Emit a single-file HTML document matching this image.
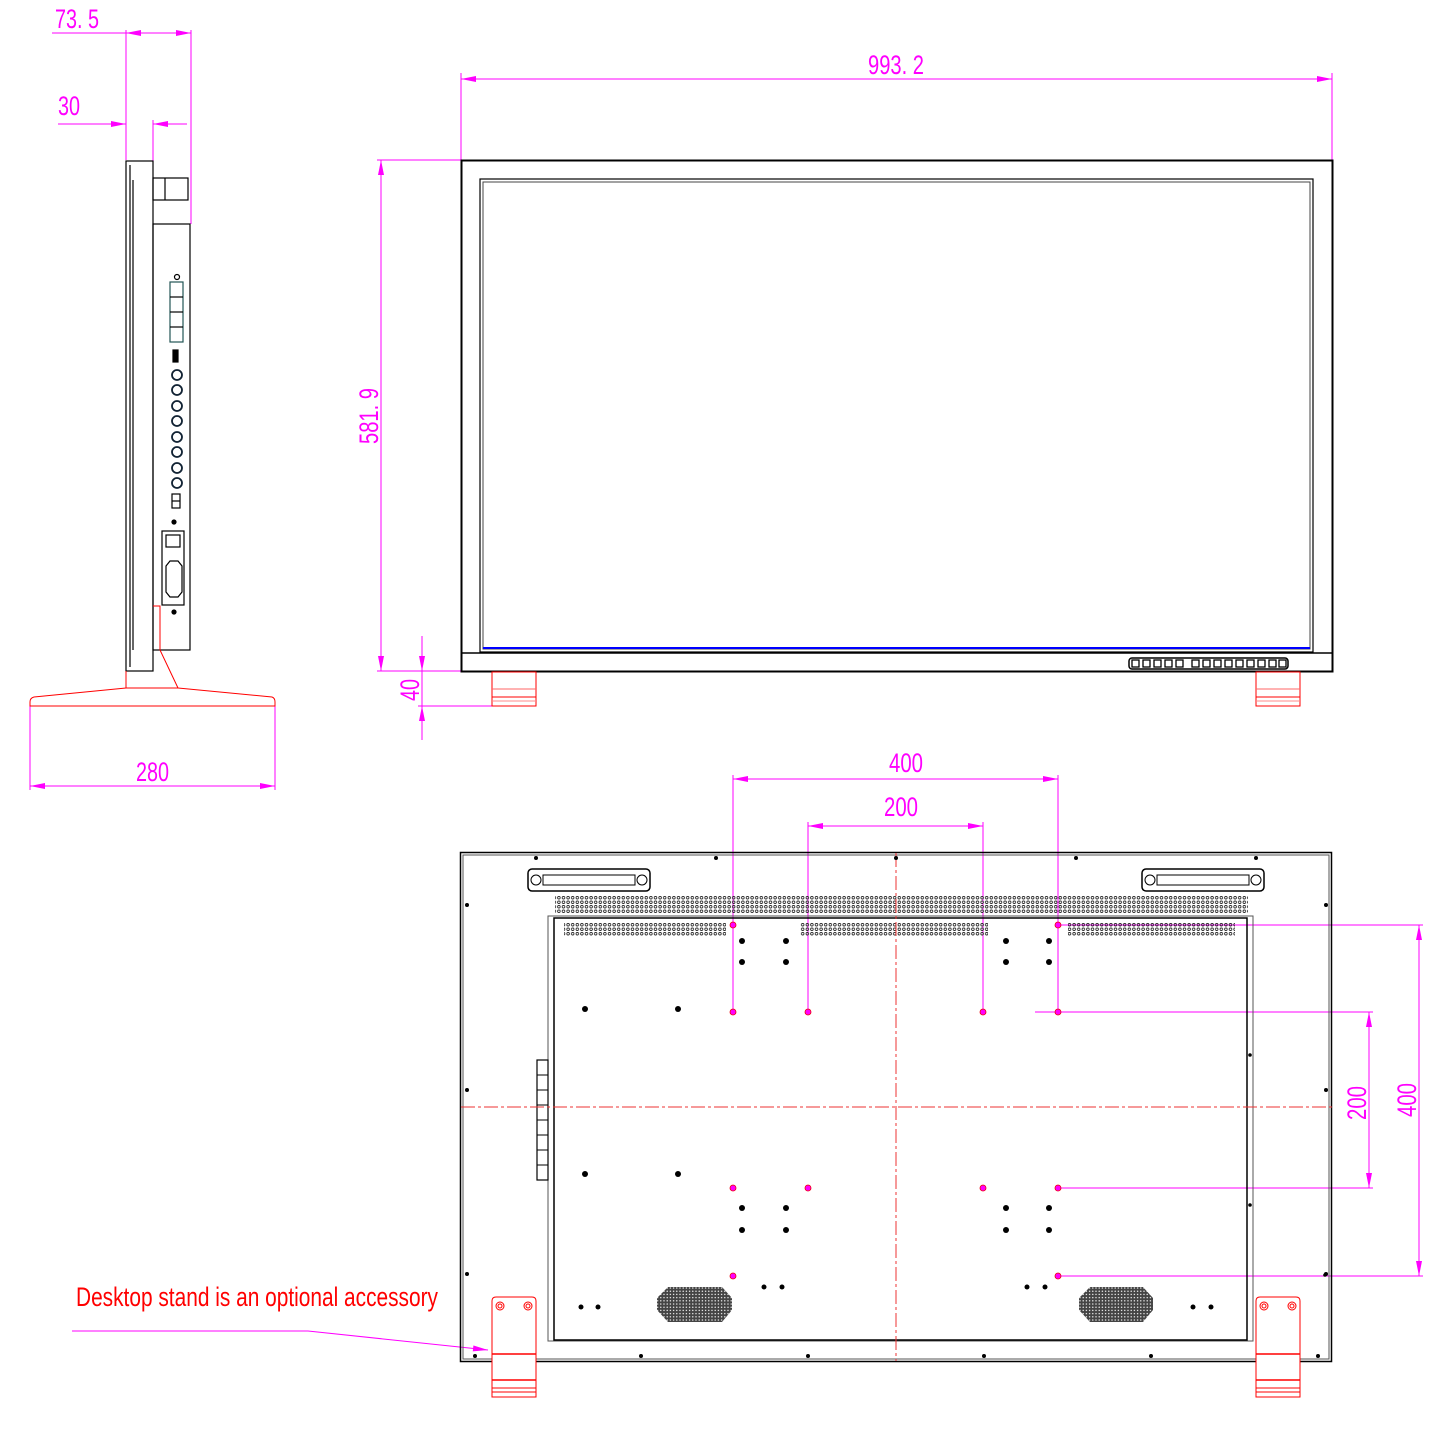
<!DOCTYPE html>
<html><head><meta charset="utf-8"><style>html,body{margin:0;padding:0;background:#fff}svg{display:block}</style></head>
<body>
<svg width="1455" height="1433" viewBox="0 0 1455 1433" xmlns="http://www.w3.org/2000/svg" font-family="Liberation Sans, sans-serif">
<defs>
<marker id="a" viewBox="0 0 10 4" refX="10" refY="2" markerWidth="16" markerHeight="6" markerUnits="userSpaceOnUse" orient="auto-start-reverse"><path d="M0,0L10,2L0,4z" fill="#f0f"/></marker>
<pattern id="v" width="4.6" height="4.5" patternUnits="userSpaceOnUse"><circle cx="2.3" cy="2.25" r="1.3" fill="none" stroke="#222" stroke-width="0.8"/></pattern>
<pattern id="sp" width="3.2" height="3.2" patternUnits="userSpaceOnUse"><rect width="3.2" height="3.2" fill="#444"/><circle cx="1.6" cy="1.6" r="0.7" fill="#fff"/></pattern>
</defs>
<g fill="none" stroke="#f0f" stroke-width="1">
<line x1="126" y1="30" x2="126" y2="160"/><line x1="191" y1="30" x2="191" y2="224"/><line x1="153" y1="120" x2="153" y2="178"/>
<line x1="52" y1="33" x2="191" y2="33"/>
<line x1="126" y1="33" x2="148" y2="33" marker-start="url(#a)"/><line x1="170" y1="33" x2="191" y2="33" marker-end="url(#a)"/>
<line x1="58" y1="124" x2="126" y2="124" marker-end="url(#a)"/><line x1="187" y1="124" x2="153" y2="124" marker-end="url(#a)"/>
<line x1="30" y1="706" x2="30" y2="790"/><line x1="275" y1="706" x2="275" y2="790"/>
<line x1="30" y1="786" x2="275" y2="786" marker-start="url(#a)" marker-end="url(#a)"/>
<line x1="461" y1="73" x2="461" y2="160"/><line x1="1332" y1="73" x2="1332" y2="160"/>
<line x1="461" y1="79" x2="1332" y2="79" marker-start="url(#a)" marker-end="url(#a)"/>
<line x1="377" y1="160" x2="461" y2="160"/><line x1="377" y1="671" x2="470" y2="671"/>
<line x1="381" y1="160" x2="381" y2="671" marker-start="url(#a)" marker-end="url(#a)"/>
<line x1="418" y1="706" x2="500" y2="706"/>
<line x1="422" y1="636" x2="422" y2="671" marker-end="url(#a)"/><line x1="422" y1="740" x2="422" y2="706" marker-end="url(#a)"/><line x1="422" y1="671" x2="422" y2="706"/>
<line x1="733" y1="775" x2="733" y2="1012"/><line x1="1058" y1="775" x2="1058" y2="1012"/>
<line x1="733" y1="779" x2="1058" y2="779" marker-start="url(#a)" marker-end="url(#a)"/>
<line x1="808" y1="822" x2="808" y2="1012"/><line x1="983" y1="822" x2="983" y2="1012"/>
<line x1="808" y1="826" x2="983" y2="826" marker-start="url(#a)" marker-end="url(#a)"/>
<line x1="1058" y1="925" x2="1423" y2="925"/><line x1="1058" y1="1276" x2="1423" y2="1276"/>
<line x1="1035" y1="1012" x2="1373" y2="1012"/><line x1="1058" y1="1188" x2="1373" y2="1188"/>
<line x1="1419" y1="925" x2="1419" y2="1276" marker-start="url(#a)" marker-end="url(#a)"/>
<line x1="1369" y1="1012" x2="1369" y2="1188" marker-start="url(#a)" marker-end="url(#a)"/>
<polyline points="72,1331 308,1331 488,1350" marker-end="url(#a)"/>
</g>
<g fill="#f0f" font-size="27">
<text x="55" y="28" textLength="44" lengthAdjust="spacingAndGlyphs">73. 5</text>
<text x="58" y="115" textLength="22" lengthAdjust="spacingAndGlyphs">30</text>
<text x="136" y="781" textLength="33" lengthAdjust="spacingAndGlyphs">280</text>
<text x="868" y="74" textLength="56" lengthAdjust="spacingAndGlyphs">993. 2</text>
<text transform="translate(378,444) rotate(-90)" textLength="56" lengthAdjust="spacingAndGlyphs">581. 9</text>
<text transform="translate(419,701) rotate(-90)" textLength="22" lengthAdjust="spacingAndGlyphs">40</text>
<text x="889" y="772" textLength="34" lengthAdjust="spacingAndGlyphs">400</text>
<text x="884" y="816" textLength="34" lengthAdjust="spacingAndGlyphs">200</text>
<text transform="translate(1366,1120) rotate(-90)" textLength="34" lengthAdjust="spacingAndGlyphs">200</text>
<text transform="translate(1416,1117) rotate(-90)" textLength="34" lengthAdjust="spacingAndGlyphs">400</text>
</g>
<text x="76" y="1306" fill="#f00" font-size="27" textLength="362" lengthAdjust="spacingAndGlyphs">Desktop stand is an optional accessory</text>

<g fill="none" stroke="#000" stroke-width="1.2">
<rect x="126" y="161" width="27" height="510"/>
<line x1="130" y1="165" x2="130" y2="667"/><line x1="133" y1="180" x2="133" y2="650"/>
<rect x="153" y="178" width="35" height="22"/><line x1="165" y1="178" x2="165" y2="200"/>
<rect x="153" y="224" width="37" height="426"/>
<rect x="170" y="282" width="13" height="60" stroke="#255"/>
<line x1="170" y1="297" x2="183" y2="297"/><line x1="170" y1="312" x2="183" y2="312"/><line x1="170" y1="327" x2="183" y2="327"/>
<circle cx="177" cy="277" r="2.5"/>
<rect x="173" y="350" width="5" height="12" fill="#000"/>
<g stroke-width="1.8" stroke="#123"><circle cx="177" cy="375" r="5"/><circle cx="177" cy="390" r="5"/><circle cx="177" cy="406" r="5"/><circle cx="177" cy="421" r="5"/><circle cx="177" cy="437" r="5"/><circle cx="177" cy="452" r="5"/><circle cx="177" cy="468" r="5"/><circle cx="177" cy="483" r="5"/></g>
<rect x="172" y="494" width="8" height="14"/><line x1="172" y1="501" x2="180" y2="501"/>
<circle cx="174" cy="522" r="2" fill="#000"/>
<rect x="162" y="531" width="22" height="74"/><rect x="166" y="535" width="14" height="12"/>
<polygon points="166,566 170,561 178,561 182,566 182,592 178,597 170,597 166,592"/>
<circle cx="174" cy="612" r="2" fill="#000"/>
</g>
<g fill="none" stroke="#f00" stroke-width="1">
<polyline points="153,606 160,606 160,640 160,650 178,688"/>
<line x1="126" y1="671" x2="126" y2="688"/>
<path d="M126,688 L178,688 L272,697 Q275,698 275,702 L275,706 L30,706 L30,702 Q30,698 34,697 Z"/>
</g>

<g fill="none" stroke="#000">
<rect x="461.5" y="160.5" width="871" height="511" stroke-width="2"/>
<rect x="480" y="179" width="833" height="473" stroke-width="1.2"/>
<rect x="483" y="182" width="827" height="467" stroke="#444"/>
<line x1="483" y1="648" x2="1310" y2="648" stroke="#00f" stroke-width="2"/>
<line x1="461" y1="653" x2="1332" y2="653" stroke-width="1.5"/>
<rect x="1129" y="658" width="159" height="11" rx="3" stroke-width="1.5"/>
</g>
<g fill="#fff" stroke="#000" stroke-width="1.3">
<rect x="1132" y="660" width="7" height="7"/><rect x="1143" y="660" width="7" height="7"/><rect x="1154" y="660" width="7" height="7"/><rect x="1165" y="660" width="7" height="7"/><rect x="1176" y="660" width="7" height="7"/>
<rect x="1192" y="660" width="7" height="7"/><rect x="1203" y="660" width="7" height="7"/><rect x="1214" y="660" width="7" height="7"/><rect x="1225" y="660" width="7" height="7"/><rect x="1236" y="660" width="7" height="7"/>
<rect x="1247" y="660" width="7" height="7"/><rect x="1258" y="660" width="7" height="7"/><rect x="1269" y="660" width="7" height="7"/><rect x="1279" y="660" width="7" height="7"/>
</g>
<g fill="none" stroke="#f00" stroke-width="1">
<rect x="492" y="672" width="44" height="34"/><line x1="492" y1="689" x2="536" y2="689" stroke="#f66"/><line x1="492" y1="697" x2="536" y2="697"/><line x1="492" y1="701" x2="536" y2="701" stroke="#f88"/>
<rect x="1256" y="672" width="44" height="34"/><line x1="1256" y1="689" x2="1300" y2="689" stroke="#f66"/><line x1="1256" y1="697" x2="1300" y2="697"/><line x1="1256" y1="701" x2="1300" y2="701" stroke="#f88"/>
</g>

<g fill="none" stroke="#000">
<rect x="460.5" y="852.5" width="871" height="509" stroke-width="1.5"/>
<rect x="463" y="855" width="866" height="504" stroke="#555"/>
<rect x="548" y="916" width="705" height="425" stroke="#555"/>
<rect x="554" y="918" width="693" height="422" stroke-width="1.5"/>
<rect x="528" y="869" width="122" height="22" rx="4" stroke-width="1.5"/>
<rect x="543" y="875" width="92" height="10"/><circle cx="536" cy="880" r="5"/><circle cx="642" cy="880" r="5"/>
<rect x="1142" y="869" width="122" height="22" rx="4" stroke-width="1.5"/>
<rect x="1157" y="875" width="92" height="10"/><circle cx="1150" cy="880" r="5"/><circle cx="1256" cy="880" r="5"/>
<rect x="537" y="1060" width="11" height="120" stroke-width="1.2"/>
<line x1="537" y1="1075" x2="548" y2="1075"/><line x1="537" y1="1090" x2="548" y2="1090"/><line x1="537" y1="1105" x2="548" y2="1105"/><line x1="537" y1="1120" x2="548" y2="1120"/><line x1="537" y1="1135" x2="548" y2="1135"/><line x1="537" y1="1150" x2="548" y2="1150"/><line x1="537" y1="1165" x2="548" y2="1165"/>
</g>
<rect x="555" y="895" width="693" height="18" fill="url(#v)"/>
<rect x="564" y="922" width="162" height="14" fill="url(#v)"/>
<rect x="800" y="922" width="188" height="14" fill="url(#v)"/>
<rect x="1068" y="922" width="167" height="14" fill="url(#v)"/>
<polygon points="668,1287 722,1287 732,1298 732,1310 722,1322 668,1322 657,1310 657,1298" fill="url(#sp)"/>
<polygon points="1090,1287 1143,1287 1153,1298 1153,1310 1143,1322 1090,1322 1079,1310 1079,1298" fill="url(#sp)"/>
<g stroke="#e33" stroke-width="1" stroke-dasharray="14,3,3,3">
<line x1="896" y1="853" x2="896" y2="1361"/><line x1="461" y1="1107" x2="1332" y2="1107"/>
</g>
<g fill="#000">
<circle cx="742" cy="941" r="3"/><circle cx="786" cy="941" r="3"/><circle cx="742" cy="962" r="3"/><circle cx="786" cy="962" r="3"/>
<circle cx="1006" cy="941" r="3"/><circle cx="1049" cy="941" r="3"/><circle cx="1006" cy="962" r="3"/><circle cx="1049" cy="962" r="3"/>
<circle cx="585" cy="1009" r="3"/><circle cx="678" cy="1009" r="3"/><circle cx="585" cy="1174" r="3"/><circle cx="678" cy="1174" r="3"/>
<circle cx="742" cy="1208" r="3"/><circle cx="786" cy="1208" r="3"/><circle cx="742" cy="1230" r="3"/><circle cx="786" cy="1230" r="3"/>
<circle cx="1006" cy="1208" r="3"/><circle cx="1049" cy="1208" r="3"/><circle cx="1006" cy="1230" r="3"/><circle cx="1049" cy="1230" r="3"/>
<circle cx="764" cy="1287" r="2.5"/><circle cx="782" cy="1287" r="2.5"/><circle cx="1027" cy="1287" r="2.5"/><circle cx="1045" cy="1287" r="2.5"/>
<circle cx="581" cy="1307" r="2.5"/><circle cx="598" cy="1307" r="2.5"/><circle cx="1193" cy="1307" r="2.5"/><circle cx="1211" cy="1307" r="2.5"/>
<circle cx="536" cy="858" r="2"/><circle cx="716" cy="858" r="2"/><circle cx="896" cy="858" r="2"/><circle cx="1076" cy="858" r="2"/><circle cx="1256" cy="858" r="2"/>
<circle cx="467" cy="905" r="2"/><circle cx="467" cy="1090" r="2"/><circle cx="467" cy="1274" r="2"/>
<circle cx="1326" cy="905" r="2"/><circle cx="1326" cy="1090" r="2"/><circle cx="1326" cy="1274" r="2"/>
<circle cx="475" cy="1356" r="2"/><circle cx="641" cy="1356" r="2"/><circle cx="808" cy="1356" r="2"/><circle cx="984" cy="1356" r="2"/><circle cx="1151" cy="1356" r="2"/><circle cx="1318" cy="1356" r="2"/>
<circle cx="1250" cy="1055" r="1.8"/><circle cx="1250" cy="1205" r="1.8"/><circle cx="1325" cy="1275" r="1.8"/>
</g>
<g fill="#f0f" stroke="#e00" stroke-width="0.8">
<circle cx="733" cy="925" r="3"/><circle cx="1058" cy="925" r="3"/>
<circle cx="733" cy="1012" r="3"/><circle cx="808" cy="1012" r="3"/><circle cx="983" cy="1012" r="3"/><circle cx="1058" cy="1012" r="3"/>
<circle cx="733" cy="1188" r="3"/><circle cx="808" cy="1188" r="3"/><circle cx="983" cy="1188" r="3"/><circle cx="1058" cy="1188" r="3"/>
<circle cx="733" cy="1276" r="3"/><circle cx="1058" cy="1276" r="3"/>
</g>
<g fill="none" stroke="#f00" stroke-width="1">
<path d="M492,1397 L492,1301 Q492,1297 496,1297 L532,1297 Q536,1297 536,1301 L536,1397 Z" fill="#fff"/>
<circle cx="500" cy="1306" r="4"/><circle cx="500" cy="1306" r="2"/><circle cx="528" cy="1306" r="4"/><circle cx="528" cy="1306" r="2"/>
<line x1="492" y1="1354" x2="536" y2="1354" stroke-width="1.5"/><line x1="492" y1="1380" x2="536" y2="1380" stroke-width="1.5"/><line x1="492" y1="1388" x2="536" y2="1388"/><line x1="492" y1="1392" x2="536" y2="1392"/>
<path d="M1256,1397 L1256,1301 Q1256,1297 1260,1297 L1296,1297 Q1300,1297 1300,1301 L1300,1397 Z" fill="#fff"/>
<circle cx="1264" cy="1306" r="4"/><circle cx="1264" cy="1306" r="2"/><circle cx="1292" cy="1306" r="4"/><circle cx="1292" cy="1306" r="2"/>
<line x1="1256" y1="1354" x2="1300" y2="1354" stroke-width="1.5"/><line x1="1256" y1="1380" x2="1300" y2="1380" stroke-width="1.5"/><line x1="1256" y1="1388" x2="1300" y2="1388"/><line x1="1256" y1="1392" x2="1300" y2="1392"/>
</g>
</svg>
</body></html>
